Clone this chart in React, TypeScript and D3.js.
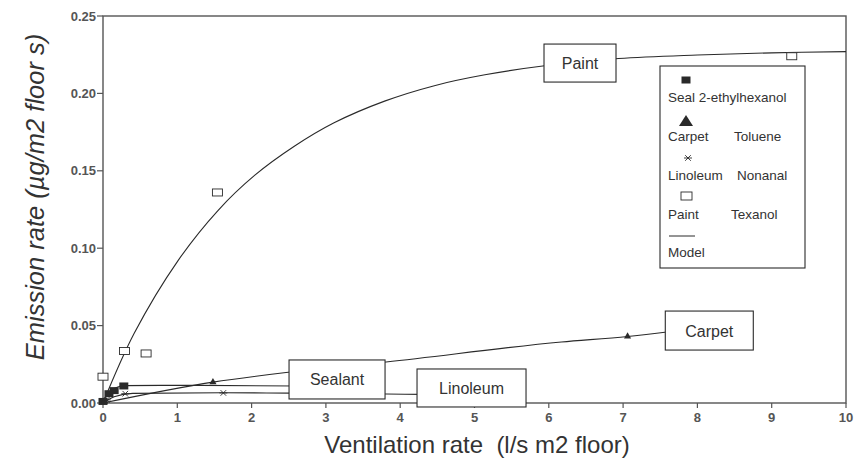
import React from "react";
import * as d3 from "d3";

// measured points (ventilation rate l/s m2 floor, emission rate ug/m2 floor s)
const sealPoints = [
  [0.0, 0.001],
  [0.08, 0.006],
  [0.15, 0.008],
  [0.28, 0.011],
];
const carpetPoints = [
  [0.02, 0.001],
  [1.48, 0.0135],
  [7.06, 0.043],
];
const linoleumPoints = [
  [0.05, 0.002],
  [0.3, 0.006],
  [1.62, 0.0065],
];
const paintPoints = [
  [0.0, 0.017],
  [0.29, 0.0336],
  [0.58, 0.032],
  [1.54, 0.136],
  [9.27, 0.224],
];

// model curves (end at their label box)
const paintModel = [
  [0, 0], [0.42, 0.045], [1.01, 0.092], [1.55, 0.1245], [2.04, 0.147],
  [2.58, 0.166], [3.11, 0.181], [3.79, 0.195], [4.46, 0.205], [5.14, 0.212],
  [5.97, 0.218], [6.94, 0.2225], [8, 0.2248], [9, 0.2262], [10, 0.227],
];
const carpetModel = [
  [0, 0], [1.48, 0.0135], [2.52, 0.02], [3.81, 0.0265], [6.17, 0.0394],
  [7.06, 0.043], [7.59, 0.0459],
];
const sealModel = [
  [0, 0], [0.1, 0.0078], [0.3, 0.0112], [1, 0.0114], [2.6, 0.011],
];
const linoleumModel = [
  [0, 0], [0.15, 0.004], [0.4, 0.0062], [1.6, 0.0066], [2.52, 0.0064],
  [3.81, 0.0058], [4.3, 0.0056],
];

// label boxes: centre in data units, size in px
const labels = [
  { text: "Paint", x: 6.42, y: 0.2196, w: 72, h: 38 },
  { text: "Carpet", x: 8.16, y: 0.0468, w: 88, h: 39 },
  { text: "Sealant", x: 3.15, y: 0.0152, w: 96, h: 39 },
  { text: "Linoleum", x: 4.96, y: 0.0097, w: 109, h: 38 },
];

const xTicks = d3.range(0, 11);
const yTicks = [0, 0.05, 0.1, 0.15, 0.2, 0.25];

const W = 861;
const H = 465;
const FONT = "'Liberation Sans', Arial, sans-serif";

export default function App() {
  const x = d3.scaleLinear().domain([0, 10]).range([103, 846]);
  const y = d3.scaleLinear().domain([0, 0.25]).range([403, 16]);

  const line = d3
    .line<number[]>()
    .x((d) => x(d[0]))
    .y((d) => y(d[1]))
    .curve(d3.curveMonotoneX);

  const ink = "#2a2a2a";
  const axisInk = "#555";

  const star = (cx: number, cy: number, r: number) => (
    <g stroke={ink} strokeWidth={0.9}>
      <line x1={cx - r} y1={cy} x2={cx + r} y2={cy} />
      <line x1={cx - r * 0.7} y1={cy - r * 0.7} x2={cx + r * 0.7} y2={cy + r * 0.7} />
      <line x1={cx - r * 0.7} y1={cy + r * 0.7} x2={cx + r * 0.7} y2={cy - r * 0.7} />
    </g>
  );

  return (
    <div style={{ position: "absolute", left: 0, top: 0 }}>
      <svg width={W} height={H} style={{ display: "block", background: "#fff" }}>
        {/* frame */}
        <rect
          x={x(0)}
          y={y(0.25)}
          width={x(10) - x(0)}
          height={y(0) - y(0.25)}
          fill="none"
          stroke={axisInk}
          strokeWidth={1.4}
        />

        {/* y axis ticks */}
        {yTicks.map((t) => (
          <g key={"y" + t}>
            <line x1={x(0) - 6} x2={x(0)} y1={y(t)} y2={y(t)} stroke={axisInk} strokeWidth={1.2} />
            <text
              x={x(0) - 7}
              y={y(t) + 4.5}
              textAnchor="end"
              fontFamily={FONT}
              fontSize={13}
              fontWeight="bold"
              fill="#555"
            >
              {d3.format(".2f")(t)}
            </text>
          </g>
        ))}

        {/* x axis ticks */}
        {xTicks.map((t) => (
          <g key={"x" + t}>
            <line x1={x(t)} x2={x(t)} y1={y(0)} y2={y(0) + 5} stroke={axisInk} strokeWidth={1.2} />
            <text
              x={x(t)}
              y={y(0) + 19}
              textAnchor="middle"
              fontFamily={FONT}
              fontSize={13}
              fontWeight="bold"
              fill="#555"
            >
              {t}
            </text>
          </g>
        ))}

        {/* model lines */}
        {[paintModel, carpetModel, sealModel, linoleumModel].map((m, i) => (
          <path
            key={"m" + i}
            d={(i === 0 ? line.curve(d3.curveCatmullRom.alpha(0.5)) : line.curve(d3.curveMonotoneX))(m) || ""}
            fill="none"
            stroke={ink}
            strokeWidth={1.1}
          />
        ))}

        {/* points */}
        {paintPoints.map((p, i) => (
          <rect
            key={"p" + i}
            x={x(p[0]) - 5}
            y={y(p[1]) - 3.5}
            width={10}
            height={7}
            fill="#fff"
            stroke={ink}
            strokeWidth={0.9}
          />
        ))}
        {sealPoints.map((p, i) => (
          <rect
            key={"s" + i}
            x={x(p[0]) - 4.5}
            y={y(p[1]) - 3.5}
            width={9}
            height={7}
            fill={ink}
          />
        ))}
        {carpetPoints.map((p, i) => (
          <path
            key={"c" + i}
            d={d3.symbol(d3.symbolTriangle, 22)() || ""}
            transform={`translate(${x(p[0])},${y(p[1])})`}
            fill={ink}
          />
        ))}
        {linoleumPoints.map((p, i) => (
          <g key={"l" + i}>{star(x(p[0]), y(p[1]), 4)}</g>
        ))}

        {/* label boxes */}
        {labels.map((l) => (
          <g key={l.text}>
            <rect
              x={x(l.x) - l.w / 2}
              y={y(l.y) - l.h / 2}
              width={l.w}
              height={l.h}
              fill="#fff"
              stroke={ink}
              strokeWidth={1.1}
            />
            <text
              x={x(l.x)}
              y={y(l.y) + 6}
              textAnchor="middle"
              fontFamily={FONT}
              fontSize={16}
              fill="#333"
            >
              {l.text}
            </text>
          </g>
        ))}

        {/* legend */}
        <g fontFamily={FONT} fontSize={13.5} fill="#333">
          <rect x={660} y={66} width={145} height={202} fill="#fff" stroke={ink} strokeWidth={1.1} />
          <rect x={681.5} y={76.5} width={9} height={7} fill={ink} />
          <text x={668} y={102}>Seal 2-ethylhexanol</text>
          <path d="M679,126 L686,115 L693,126 Z" fill={ink} />
          <text x={668} y={141}>Carpet</text>
          <text x={734} y={141}>Toluene</text>
          {star(688, 158, 4)}
          <text x={668} y={180}>Linoleum</text>
          <text x={737} y={180}>Nonanal</text>
          <rect x={681} y={192} width={11} height={8} fill="#fff" stroke={ink} strokeWidth={0.9} />
          <text x={668} y={219}>Paint</text>
          <text x={731} y={219}>Texanol</text>
          <line x1={669} x2={695} y1={236} y2={236} stroke={ink} strokeWidth={1} />
          <text x={668} y={257}>Model</text>
        </g>

        {/* axis titles */}
        <text
          transform="translate(44,197) rotate(-90)"
          textAnchor="middle"
          fontFamily={FONT}
          fontSize={25.5}
          fontStyle="italic"
          fill="#333"
        >
          Emission rate (µg/m2 floor s)
        </text>
        <text
          x={477}
          y={453}
          textAnchor="middle"
          fontFamily={FONT}
          fontSize={24}
          fill="#333"
          style={{ whiteSpace: "pre" }}
        >
          {"Ventilation rate  (l/s m2 floor)"}
        </text>
      </svg>
    </div>
  );
}
